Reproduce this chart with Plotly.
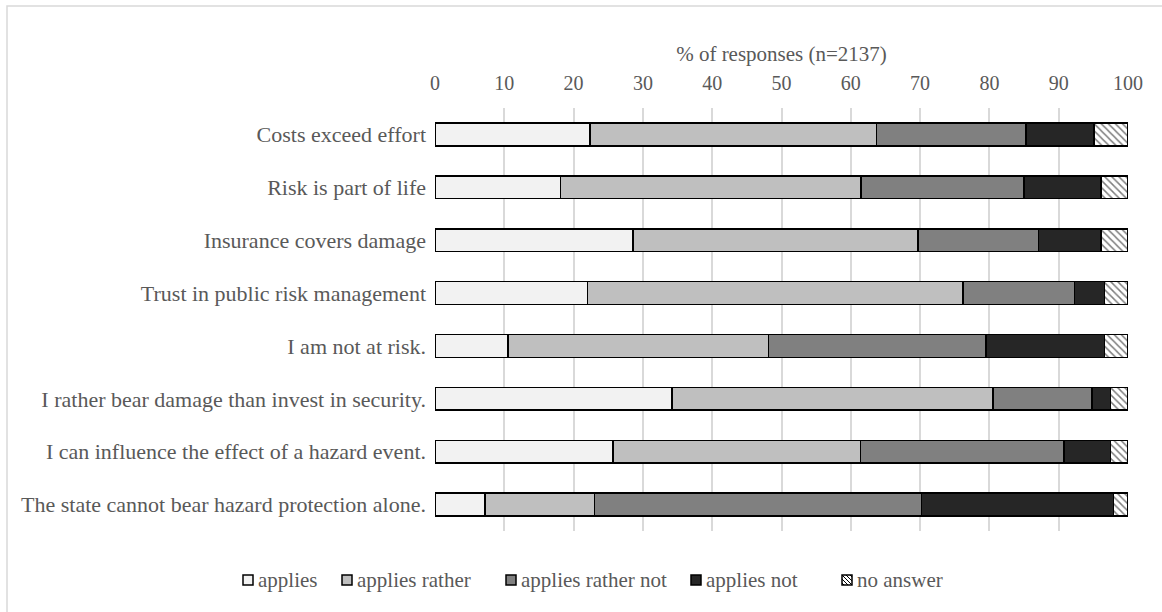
import plotly.graph_objects as go

categories = [
    "Costs exceed effort",
    "Risk is part of life",
    "Insurance covers damage",
    "Trust in public risk management",
    "I am not at risk.",
    "I rather bear damage than invest in security.",
    "I can influence the effect of a hazard event.",
    "The state cannot bear hazard protection alone.",
]
applies = [22.4, 18.1, 28.6, 22.0, 10.5, 34.2, 25.7, 7.2]
applies_rather = [41.3, 43.4, 41.1, 54.2, 37.6, 46.3, 35.7, 15.8]
applies_rather_not = [21.6, 23.5, 17.4, 16.1, 31.4, 14.3, 29.4, 47.2]
applies_not = [9.8, 11.1, 9.0, 4.3, 17.1, 2.7, 6.7, 27.7]
no_answer = [4.9, 3.9, 3.9, 3.4, 3.4, 2.5, 2.5, 2.1]

series_names = ["applies", "applies rather", "applies rather not", "applies not", "no answer"]
series_values = [applies, applies_rather, applies_rather_not, applies_not, no_answer]
series_colors = ["#F2F2F2", "#BFBFBF", "#808080", "#262626", "#FFFFFF"]
series_patterns = ["", "", "", "", "\\"]

W, H = 1162, 612
ml, mr, mt, mb = 435, 34, 108, 81
pw, ph = W - ml - mr, H - mt - mb
GREY = "#595959"
FONT = "Liberation Serif, Times New Roman, serif"


def px_x(x):
    return (x - ml) / pw


def px_y(y):
    return (H - mb - y) / ph


fig = go.Figure()
for name, vals, color, pat in zip(series_names, series_values, series_colors, series_patterns):
    marker = dict(color=color, line=dict(color="#000000", width=1.5))
    if pat:
        marker["pattern"] = dict(shape=pat, fgcolor="#000000", bgcolor="#FFFFFF", size=5, solidity=0.3)
    fig.add_trace(go.Bar(
        y=categories, x=vals, name=name, orientation="h", marker=marker, showlegend=False,
    ))

# Manual legend (positions in pixels)
legend_left = [243, 342, 506, 691, 842]
legend_cy = 580
sq = 10
shapes = [dict(
    type="rect", xref="paper", yref="paper",
    x0=px_x(7), x1=px_x(W + 20),
    y0=px_y(H + 20), y1=px_y(6),
    line=dict(color="#D9D9D9", width=1.5), fillcolor="rgba(0,0,0,0)", layer="below",
)]
annotations = []
for L, name, color, pat in zip(legend_left, series_names, series_colors, series_patterns):
    T = legend_cy - sq / 2
    shapes.append(dict(
        type="rect", xref="paper", yref="paper",
        x0=px_x(L), x1=px_x(L + sq), y0=px_y(T + sq), y1=px_y(T),
        line=dict(color="#000000", width=1.5), fillcolor=color,
    ))
    if pat:
        segs = [(0, 0, 10, 10), (4, 0, 10, 6), (0, 4, 6, 10), (8, 0, 10, 2), (0, 8, 2, 10)]
        for a, b, c, d in segs:
            shapes.append(dict(
                type="line", xref="paper", yref="paper",
                x0=px_x(L + a), y0=px_y(T + b), x1=px_x(L + c), y1=px_y(T + d),
                line=dict(color="#000000", width=1),
            ))
    annotations.append(dict(
        xref="paper", yref="paper", x=px_x(L + sq + 3), y=px_y(legend_cy),
        xanchor="left", yanchor="middle", text=name, showarrow=False,
        font=dict(family=FONT, size=21, color=GREY),
    ))

fig.update_layout(
    width=W, height=H,
    barmode="stack",
    bargap=0.57,
    plot_bgcolor="white",
    paper_bgcolor="white",
    margin=dict(l=ml, r=mr, t=mt, b=mb, pad=0, autoexpand=False),
    font=dict(family=FONT, size=20, color=GREY),
    showlegend=False,
    xaxis=dict(
        side="top", range=[0, 100], dtick=10, tick0=0,
        showgrid=True, gridcolor="#D9D9D9", gridwidth=1.5,
        zeroline=False, showline=False, ticks="",
        ticklabelstandoff=13,
        title=dict(text="% of responses (n=2137)", font=dict(size=21, color=GREY), standoff=4),
        tickfont=dict(size=20, color=GREY),
    ),
    yaxis=dict(
        autorange="reversed", showgrid=False, showline=False,
        tickfont=dict(size=22, color=GREY), ticks="", ticklabelstandoff=8,
    ),
    shapes=shapes,
    annotations=annotations,
)

fig.write_html("out.html")
